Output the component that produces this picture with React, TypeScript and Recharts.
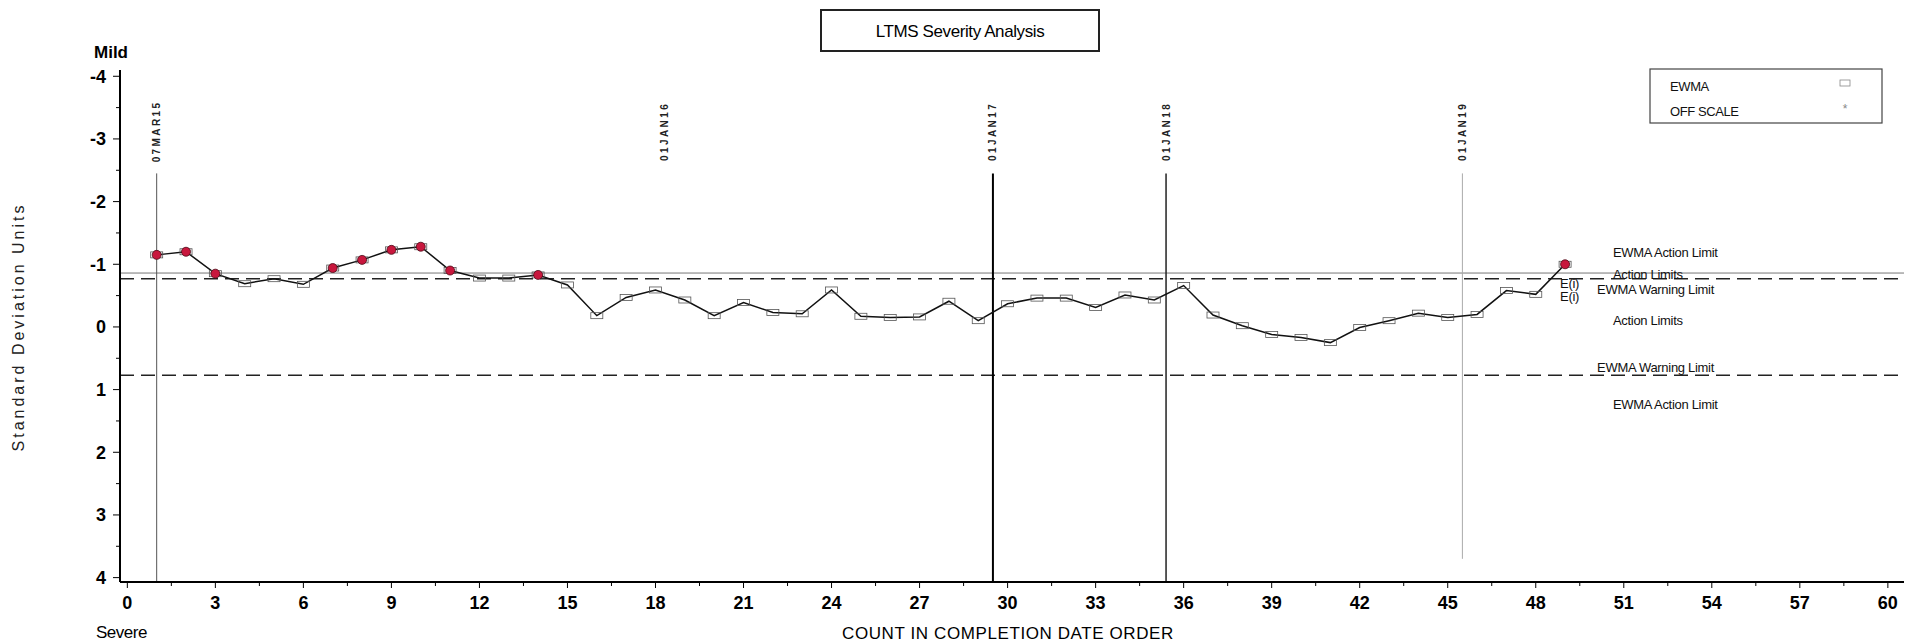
import React from "react";
import {
  LineChart,
  Line,
  XAxis,
  YAxis,
  ReferenceLine,
  ReferenceDot,
} from "recharts";

// test count in completion order and the EWMA value
const counts = [
  1, 2, 3, 4, 5, 6, 7, 8, 9, 10, 11, 12, 13, 14, 15, 16, 17, 18, 19, 20, 21,
  22, 23, 24, 25, 26, 27, 28, 29, 30, 31, 32, 33, 34, 35, 36, 37, 38, 39, 40,
  41, 42, 43, 44, 45, 46, 47, 48, 49,
];
const ewma = [
  -1.15, -1.2, -0.85, -0.69, -0.77, -0.68, -0.94, -1.07, -1.23, -1.28, -0.9,
  -0.78, -0.78, -0.83, -0.67, -0.18, -0.47, -0.59, -0.43, -0.18, -0.39, -0.23,
  -0.21, -0.59, -0.17, -0.15, -0.16, -0.41, -0.1, -0.37, -0.46, -0.46, -0.31,
  -0.51, -0.43, -0.66, -0.19, -0.02, 0.12, 0.17, 0.25, 0.01, -0.1, -0.22,
  -0.15, -0.2, -0.58, -0.52, -1.0,
];

const xTickLabels = [
  0, 3, 6, 9, 12, 15, 18, 21, 24, 27, 30, 33, 36, 39, 42, 45, 48, 51, 54, 57,
  60,
];
const yTickLabels = [-4, -3, -2, -1, 0, 1, 2, 3, 4];

// limits (standard deviation units, negative = mild side)
const actionLimit = -0.86;
const warningLimits = [-0.77, 0.77];
const offLimit = -0.8;

// calendar markers along the count axis
const dateLabels = ["07MAR15", "01JAN16", "01JAN17", "01JAN18", "01JAN19"];
const datePositions = [1, 18.3, 29.5, 35.4, 45.5];
const dateLineEnds = [4.07, null, 4.07, 4.07, 3.7];

// text annotations on the right side (data units)
const noteTexts = [
  "EWMA Action Limit",
  "Action Limits",
  "EWMA Warning Limit",
  "E(i)",
  "E(i)",
  "Action Limits",
  "EWMA Warning Limit",
  "EWMA Action Limit",
];
const noteX = [50.63, 50.63, 50.09, 48.83, 48.83, 50.63, 50.09, 50.63];
const noteY = [-1.18, -0.83, -0.59, -0.69, -0.48, -0.1, 0.65, 1.23];

const data = counts.map((c, i) => ({ count: c, ewma: ewma[i] }));

const xTicks = xTickLabels.flatMap((t, i) =>
  i < xTickLabels.length - 1 ? [t, t + 1.5] : [t]
);
const yTicks = yTickLabels.flatMap((t, i) =>
  i < yTickLabels.length - 1 ? [t, t + 0.5] : [t]
);

const dateLineStyle: Record<string, { stroke: string; width: number }> = {
  "07MAR15": { stroke: "#555", width: 1 },
  "01JAN17": { stroke: "#000", width: 2 },
  "01JAN18": { stroke: "#222", width: 1.5 },
  "01JAN19": { stroke: "#aaa", width: 1 },
};

const FONT = '"Liberation Sans", Arial, Helvetica, sans-serif';
const W = 1909;
const H = 644;

const XTick = (props: any) => {
  const { x, y, payload } = props;
  const v = payload.value;
  const major = v % 3 === 0;
  const axisY = y - 14;
  return (
    <g>
      <line
        x1={x}
        x2={x}
        y1={axisY}
        y2={axisY + (major ? 6 : 4)}
        stroke="#000"
        strokeWidth={1}
      />
      {major && (
        <text
          x={x}
          y={y + 13}
          textAnchor="middle"
          fontFamily={FONT}
          fontSize={18}
          fontWeight="bold"
          fill="#000"
        >
          {v}
        </text>
      )}
    </g>
  );
};

const YTick = (props: any) => {
  const { x, y, payload } = props;
  const v = payload.value;
  const major = Number.isInteger(v);
  const axisX = x + 16;
  return (
    <g>
      <line
        x1={axisX - (major ? 7 : 4)}
        x2={axisX}
        y1={y}
        y2={y}
        stroke="#000"
        strokeWidth={1}
      />
      {major && (
        <text
          x={x + 2}
          y={y + 6.5}
          textAnchor="end"
          fontFamily={FONT}
          fontSize={18}
          fontWeight="bold"
          fill="#000"
        >
          {v}
        </text>
      )}
    </g>
  );
};

const EwmaDot = (props: any) => {
  const { cx, cy, payload, index } = props;
  if (cx == null || cy == null) return <g key={index} />;
  const off = payload.ewma < offLimit;
  return (
    <g key={index}>
      <rect
        x={cx - 6}
        y={cy - 3}
        width={12}
        height={6}
        fill="none"
        stroke="#555"
        strokeWidth={0.8}
      />
      {off && (
        <circle
          cx={cx}
          cy={cy}
          r={4.5}
          fill="#c8173d"
          stroke="#4a0714"
          strokeWidth={0.8}
        />
      )}
    </g>
  );
};

const App: React.FC = () => {
  return (
    <div
      style={{
        position: "relative",
        width: W,
        height: H,
        background: "#fff",
        fontFamily: FONT,
      }}
    >
      <style>{`body{margin:0;overflow:hidden;background:#fff}`}</style>
      <LineChart
        width={W}
        height={H}
        data={data}
        margin={{ top: 70, right: 5, bottom: 22, left: 60 }}
      >
        <XAxis
          type="number"
          dataKey="count"
          domain={[-0.25, 60.55]}
          ticks={xTicks}
          interval={0}
          tick={XTick}
          tickLine={false}
          tickSize={6}
          tickMargin={8}
          height={40}
          axisLine={{ stroke: "#000", strokeWidth: 2 }}
          allowDataOverflow
        />
        <YAxis
          type="number"
          domain={[-4.1, 4.07]}
          reversed
          ticks={yTicks}
          interval={0}
          tick={YTick}
          tickLine={false}
          tickSize={8}
          tickMargin={8}
          width={60}
          axisLine={{ stroke: "#000", strokeWidth: 2 }}
          allowDataOverflow
        />

        <ReferenceLine y={actionLimit} stroke="#777" strokeWidth={1} />
        {warningLimits.map((w) => (
          <ReferenceLine
            key={w}
            y={w}
            stroke="#222"
            strokeWidth={1.5}
            strokeDasharray="14 7"
          />
        ))}

        {dateLabels.map((d, i) =>
          dateLineEnds[i] == null ? null : (
            <ReferenceLine
              key={"l" + d}
              segment={[
                { x: datePositions[i], y: -2.45 },
                { x: datePositions[i], y: dateLineEnds[i] as number },
              ]}
              stroke={dateLineStyle[d].stroke}
              strokeWidth={dateLineStyle[d].width}
            />
          )
        )}
        {dateLabels.map((d, i) => (
          <ReferenceDot
            key={"t" + d}
            x={datePositions[i]}
            y={-3.12}
            r={0}
            shape={(p: any) => (
              <text
                x={p.cx}
                y={p.cy}
                transform={`rotate(-90 ${p.cx} ${p.cy})`}
                textAnchor="middle"
                dominantBaseline="central"
                fontFamily={FONT}
                fontSize={10}
                fontWeight="bold"
                letterSpacing={2.4}
                fill="#222"
              >
                {d}
              </text>
            )}
          />
        ))}

        {noteTexts.map((t, i) => (
          <ReferenceDot
            key={"n" + i}
            x={noteX[i]}
            y={noteY[i]}
            r={0}
            shape={(p: any) => (
              <text
                x={p.cx}
                y={p.cy + 4.5}
                textAnchor="start"
                fontFamily={FONT}
                fontSize={13}
                letterSpacing={-0.3}
                fill="#111"
              >
                {t}
              </text>
            )}
          />
        ))}

        <Line
          type="linear"
          dataKey="ewma"
          stroke="#111"
          strokeWidth={1.5}
          dot={EwmaDot}
          activeDot={false}
          isAnimationActive={false}
        />
      </LineChart>

      <svg
        width={W}
        height={H}
        style={{ position: "absolute", left: 0, top: 0, pointerEvents: "none" }}
      >
        {/* title box */}
        <rect
          x={821}
          y={10}
          width={278}
          height={41}
          fill="none"
          stroke="#222"
          strokeWidth={2}
        />
        <text
          x={960}
          y={37}
          textAnchor="middle"
          fontFamily={FONT}
          fontSize={17}
          letterSpacing={-0.4}
          fill="#000"
        >
          LTMS Severity Analysis
        </text>

        {/* legend */}
        <rect
          x={1650}
          y={69}
          width={232}
          height={54}
          fill="none"
          stroke="#444"
          strokeWidth={1.2}
        />
        <text x={1670} y={91} fontFamily={FONT} fontSize={13} letterSpacing={-0.4} fill="#111">
          EWMA
        </text>
        <rect x={1840} y={80} width={10} height={6} fill="none" stroke="#888" strokeWidth={0.8} />
        <text x={1670} y={116} fontFamily={FONT} fontSize={13} letterSpacing={-0.4} fill="#111">
          OFF SCALE
        </text>
        <text x={1845} y={113} textAnchor="middle" fontFamily={FONT} fontSize={12} fill="#888">
          *
        </text>

        {/* axis captions */}
        <text x={94} y={58} fontFamily={FONT} fontSize={17} fontWeight="bold" fill="#000">
          Mild
        </text>
        <text x={96} y={638} fontFamily={FONT} fontSize={17} letterSpacing={-0.5} fill="#000">
          Severe
        </text>
        <text
          x={1008}
          y={639}
          textAnchor="middle"
          fontFamily={FONT}
          fontSize={17}
          letterSpacing={0.6}
          fill="#000"
        >
          COUNT IN COMPLETION DATE ORDER
        </text>
        <text
          x={18}
          y={327}
          transform="rotate(-90 18 327)"
          textAnchor="middle"
          dominantBaseline="central"
          fontFamily={FONT}
          fontSize={16}
          letterSpacing={3}
          fill="#222"
        >
          Standard Deviation Units
        </text>
      </svg>
    </div>
  );
};

export default App;
